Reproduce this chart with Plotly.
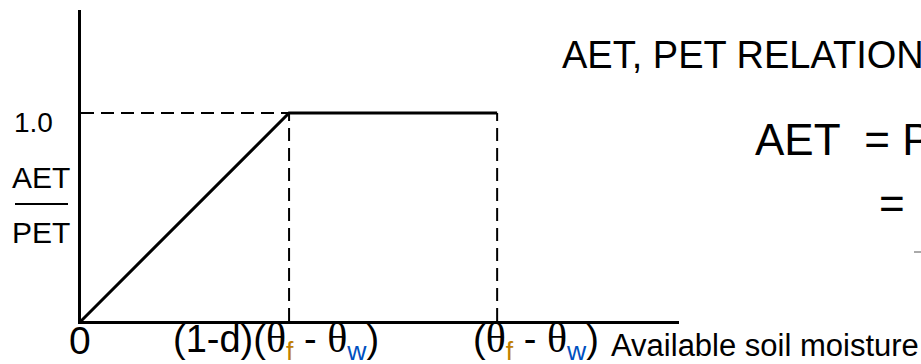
import plotly.graph_objects as go

# ---- data ----
d = 0.5                      # depletion fraction
x_ratio = [0.0, 1 - d, 1.0]  # available soil moisture (fraction of θf-θw)
y_ratio = [0.0, 1.0, 1.0]    # AET/PET
y_tick_labels = ["1.0"]
x_tick_labels = ["0", "(1-d)(θf - θw)", "(θf - θw)"]

W, H = 921, 364
L, R, T, B = 81, 242, 10, 43
PW, PH = W - L - R, H - T - B
XMAX = 1.437
YMAX = 1.495


def px(p):
    return (p - L) / PW


def py(p):
    return (H - B - p) / PH


fig = go.Figure()

# dashed guide lines
fig.add_trace(go.Scatter(x=[0, x_ratio[1]], y=[y_ratio[1], y_ratio[1]], mode="lines",
                         line=dict(color="black", width=2, dash="13px,7px"), hoverinfo="skip"))
fig.add_trace(go.Scatter(x=[x_ratio[1], x_ratio[1]], y=[0, y_ratio[1]], mode="lines",
                         line=dict(color="black", width=2, dash="13px,7px"), hoverinfo="skip"))
fig.add_trace(go.Scatter(x=[x_ratio[2], x_ratio[2]], y=[0, y_ratio[2]], mode="lines",
                         line=dict(color="black", width=2, dash="13px,7px"), hoverinfo="skip"))
# AET/PET curve
fig.add_trace(go.Scatter(x=x_ratio, y=y_ratio, mode="lines",
                         line=dict(color="black", width=3), hoverinfo="skip"))

TH = '<span style="font-family:Liberation Serif;font-size:42px">θ</span>'
SUBF = '<sub><span style="color:#C08000">f</span></sub>'
SUBW = '<sub><span style="color:#0050C0">w</span></sub>'
lab1 = "(1-d)(" + TH + SUBF + " - " + TH + SUBW + ")"
lab2 = "(" + TH + SUBF + " - " + TH + SUBW + ")"

F = "Liberation Sans, Arial, sans-serif"
ann = []
# x labels
ann.append(dict(x=x_ratio[0], y=py(340), xref="x", yref="paper", text=x_tick_labels[0],
                showarrow=False, xanchor="center", yanchor="middle", xshift=-1,
                font=dict(size=39, family=F, color="black")))
ann.append(dict(x=x_ratio[1], y=py(340), xref="x", yref="paper", text=lab1,
                showarrow=False, xanchor="center", yanchor="middle", xshift=-13,
                font=dict(size=38, family=F, color="black")))
ann.append(dict(x=x_ratio[2], y=py(340), xref="x", yref="paper", text=lab2,
                showarrow=False, xanchor="center", yanchor="middle", xshift=39,
                font=dict(size=38, family=F, color="black")))
ann.append(dict(x=px(609), y=py(345), xref="paper", yref="paper", text="Available soil moisture",
                showarrow=False, xanchor="left", yanchor="middle",
                font=dict(size=31, family=F, color="black")))
# y labels
ann.append(dict(x=px(12), y=y_ratio[1], xref="paper", yref="y", text=y_tick_labels[0],
                showarrow=False, xanchor="left", yanchor="middle", yshift=-10,
                font=dict(size=28, family=F, color="black")))
ann.append(dict(x=px(10), y=py(178), xref="paper", yref="paper", text="AET",
                showarrow=False, xanchor="left", yanchor="middle",
                font=dict(size=30, family=F, color="black")))
ann.append(dict(x=px(10), y=py(233), xref="paper", yref="paper", text="PET",
                showarrow=False, xanchor="left", yanchor="middle",
                font=dict(size=30, family=F, color="black")))
# right side text
ann.append(dict(x=px(560), y=py(55), xref="paper", yref="paper", text="AET, PET RELATIONSHIP",
                showarrow=False, xanchor="left", yanchor="middle",
                font=dict(size=38, family=F, color="black")))
ann.append(dict(x=px(753), y=py(139), xref="paper", yref="paper", text="AET  = PET",
                showarrow=False, xanchor="left", yanchor="middle",
                font=dict(size=44, family=F, color="black")))
ann.append(dict(x=px(877), y=py(203), xref="paper", yref="paper", text="=",
                showarrow=False, xanchor="left", yanchor="middle",
                font=dict(size=44, family=F, color="black")))

shapes = [
    dict(type="line", xref="paper", yref="paper", x0=px(15), x1=px(68), y0=py(204), y1=py(204),
         line=dict(color="black", width=2)),
    dict(type="line", xref="paper", yref="paper", x0=px(914), x1=px(930), y0=py(252), y1=py(252),
         line=dict(color="#555555", width=1)),
]

fig.update_layout(
    width=W, height=H, autosize=False,
    margin=dict(l=L, r=R, t=T, b=B, pad=0),
    paper_bgcolor="white", plot_bgcolor="white",
    showlegend=False,
    annotations=ann, shapes=shapes,
    xaxis=dict(range=[0, XMAX], showgrid=False, zeroline=False, showticklabels=False,
               ticks="", showline=True, linecolor="black", linewidth=3, fixedrange=True),
    yaxis=dict(range=[0, YMAX], showgrid=False, zeroline=False, showticklabels=False,
               ticks="", showline=True, linecolor="black", linewidth=3, fixedrange=True),
)

fig.write_html("out.html", config={"displayModeBar": False},
               post_script="document.body.style.margin='0';document.body.style.overflow='hidden';")
